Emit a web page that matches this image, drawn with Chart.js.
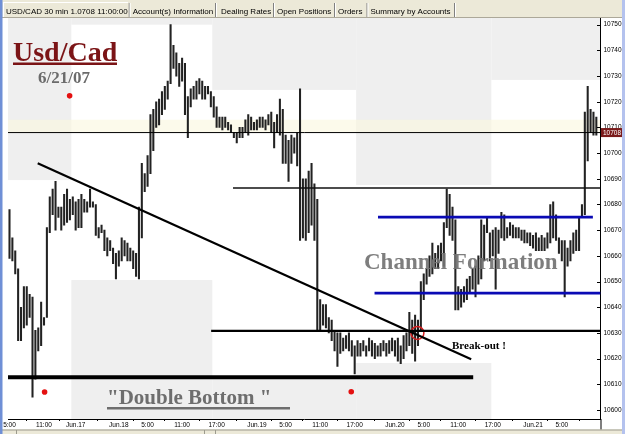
<!DOCTYPE html>
<html><head><meta charset="utf-8">
<script src="https://cdn.jsdelivr.net/npm/chart.js@4/dist/chart.umd.min.js"></script>
<style>html,body{margin:0;padding:0;background:#fff;overflow:hidden}canvas{display:block}</style>
</head><body>
<canvas id="c" width="625" height="434"></canvas>
<script>
// 30-minute bars, USD/CAD (pips, e.g. 10708 = 1.0708)
const highs = [10678,10667,10662,10655,10640,10648,10648,10645,10644,10631,
10632,10642,10636,10671,10683,10686,10689,10679,10679,10684,
10686,10682,10683,10681,10682,10684,10682,10681,10686,10681,
10680,10671,10672,10670,10667,10666,10663,10661,10662,10667,
10666,10665,10663,10662,10661,10679,10696,10692,10699,10715,
10717,10720,10721,10724,10726,10728,10750,10742,10739,10735,
10737,10735,10722,10725,10726,10728,10729,10728,10726,10726,
10724,10722,10718,10714,10714,10714,10712,10711,10708,10708,
10710,10710,10713,10715,10714,10712,10713,10714,10714,10713,
10715,10716,10712,10715,10721,10717,10707,10705,10707,10706,
10708,10725,10690,10690,10693,10696,10688,10682,10643,10641,
10641,10636,10635,10631,10630,10630,10628,10629,10630,10627,
10625,10627,10626,10627,10625,10628,10627,10626,10625,10626,
10627,10626,10627,10628,10627,10628,10625,10629,10630,10638,
10635,10637,10635,10650,10653,10655,10660,10665,10661,10664,
10665,10673,10686,10684,10679,10674,10648,10647,10648,10651,
10652,10655,10656,10660,10674,10672,10675,10669,10670,10671,
10670,10677,10676,10671,10673,10672,10671,10671,10670,10670,
10669,10669,10668,10669,10667,10668,10667,10669,10680,10681,
10676,10667,10666,10666,10663,10666,10669,10670,10675,10680,
10716,10726,10717,10716,10714];
const lows = [10659,10658,10653,10627,10627,10632,10633,10636,10605,10612,
10623,10625,10633,10636,10669,10676,10670,10675,10670,10672,
10673,10674,10676,10670,10671,10671,10677,10677,10679,10679,
10668,10667,10669,10662,10660,10662,10657,10651,10656,10658,
10660,10658,10658,10655,10652,10651,10667,10685,10687,10692,
10701,10710,10711,10715,10717,10721,10727,10733,10730,10726,
10728,10715,10706,10718,10721,10721,10723,10721,10721,10723,
10718,10714,10710,10710,10709,10710,10709,10708,10706,10704,
10706,10706,10708,10707,10709,10709,10709,10710,10710,10709,
10711,10708,10702,10708,10707,10696,10696,10689,10696,10700,
10695,10666,10667,10666,10669,10672,10666,10631,10631,10633,
10632,10630,10627,10623,10617,10622,10623,10624,10623,10621,
10614,10621,10621,10623,10621,10623,10621,10620,10621,10621,
10623,10621,10622,10623,10621,10619,10618,10620,10623,10625,
10622,10619,10625,10631,10643,10649,10652,10653,10655,10655,
10658,10656,10671,10668,10666,10639,10639,10640,10642,10643,
10646,10647,10644,10649,10651,10658,10669,10658,10660,10647,
10661,10667,10666,10667,10668,10667,10667,10667,10666,10665,
10665,10664,10663,10662,10662,10662,10662,10663,10665,10667,
10666,10661,10658,10644,10656,10658,10661,10662,10662,10675,
10676,10697,10708,10707,10707];

// time axis (bar index) and labels
const tickIdx = [0,12,23,38,48,60,72,86,96,108,120,134,144,156,168,182,192,204];
const tickLabels = ["5:00","11:00","Jun.17","Jun.18","5:00","11:00","17:00","Jun.19","5:00","11:00","17:00","Jun.20","5:00","11:00","17:00","Jun.21","5:00",""];
const xMin = -0.52, xMax = 205.45;
const yTicks = [10600,10610,10620,10630,10640,10650,10660,10670,10680,10690,10700,10710,10720,10730,10740,10750];
const yMin = 10596.5, yMax = 10752.6;

// trading-day columns and their shaded ranges
const dayStart = [-0.52, 21.5, 70.5, 120.5, 167.5];
const dayEnd   = [21.5, 70.5, 120.5, 167.5, 205.45];
const dayHigh  = [10689.5, 10750, 10724.6, 10687.6, 10728.5];
const dayLow   = [10596.5, 10650.6, 10613, 10618.3, 10596.5];

// drawn levels
const lastPrice = 10708;
const resistance = [[77.7, 10686.4],[205.45, 10686.4]];
const channelTop = [[128.1, 10675.1],[202.8, 10675.1]];
const channelBottom = [[126.9, 10645.5],[205.45, 10645.5]];
const breakLevel = [[70.1, 10630.8],[205.45, 10630.8]];
const doubleBottom = [[-0.52, 10612.8],[161.2, 10612.8]];
const trendLine = [[9.8, 10696.1],[160.5, 10619.8]];
const redDots = [[20.9, 10722.3],[12.2, 10607],[118.8, 10607.1]];
const breakCircle = [[141.8, 10630]];

const pts = a => a.map(p => ({x:p[0], y:p[1]}));
const lineDs = (a, color, w) => ({type:'line', data:pts(a), borderColor:color, borderWidth:w, pointRadius:0, order:0, tension:0});

const tabs = [["USD/CAD 30 min 1.0708 11:00:00",6],["Account(s) Information",132.7],["Dealing Rates",221],["Open Positions",277],["Orders",338],["Summary by Accounts",370.5]];
const tabSeps = [128.7, 215, 273, 334, 366.5, 454];

const deco = {
  id:'deco',
  beforeDraw(chart){
    const {ctx, chartArea:a, scales:{x,y}} = chart;
    ctx.save();
    ctx.fillStyle='#fff'; ctx.fillRect(0,0,chart.width,chart.height);
    ctx.fillStyle='#efefef';
    for(let d=0; d<dayStart.length; d++){
      const x0=x.getPixelForValue(dayStart[d]), x1=x.getPixelForValue(dayEnd[d]);
      const yh=y.getPixelForValue(dayHigh[d]), yl=y.getPixelForValue(dayLow[d]);
      if(yh>a.top) ctx.fillRect(x0,a.top,x1-x0,yh-a.top);
      if(yl<a.bottom) ctx.fillRect(x0,yl,x1-x0,a.bottom-yl);
    }
    // cream band above last price
    const yp=y.getPixelForValue(lastPrice), yb=y.getPixelForValue(lastPrice+5);
    ctx.fillStyle='rgba(250,246,222,0.6)';
    ctx.fillRect(a.left,yb,a.right-a.left,yp-yb);
    ctx.restore();
  },
  afterDatasetsDraw(chart){
    const {ctx} = chart;
    ctx.save();
    ctx.textBaseline='alphabetic'; ctx.textAlign='left';
    ctx.font='bold 28px "Liberation Serif"'; ctx.fillStyle='#7b1416';
    ctx.fillText('Usd/Cad',13,60.5);
    ctx.fillRect(13,62.5,104,2.5);
    ctx.font='bold 17px "Liberation Serif"'; ctx.fillStyle='#6b6b6b';
    ctx.fillText('6/21/07',38,83);
    ctx.font='bold 23px "Liberation Serif"'; ctx.fillStyle='rgba(115,115,115,0.92)';
    ctx.fillText('Channel Formation',364,268.5);
    ctx.font='bold 11px "Liberation Serif"'; ctx.fillStyle='#000';
    ctx.fillText('Break-out !',452,349);
    ctx.font='bold 21px "Liberation Serif"'; ctx.fillStyle='#6e6e6e';
    ctx.fillText('"Double Bottom "',107,404);
    ctx.fillRect(107,407,183,2.5);
    ctx.restore();
  },
  afterDraw(chart){
    const {ctx, chartArea:a, scales:{y}} = chart;
    ctx.save();
    ctx.fillStyle='#000';
    yTicks.forEach(v=>{const py=Math.round(y.getPixelForValue(v)); ctx.fillRect(a.right-3.5,py,3.5,1);});
    ctx.fillRect(Math.round(a.right)-0.5,a.bottom,1,11);
    const yp=y.getPixelForValue(lastPrice);
    ctx.fillStyle='#7a1a1a'; ctx.fillRect(a.right+0.5,yp-4.5,21,9);
    ctx.fillStyle='#fff'; ctx.font='6.5px "Liberation Sans"'; ctx.textBaseline='middle';
    ctx.fillText(String(lastPrice),a.right+2.5,yp+0.5);
    ctx.fillStyle='#ece9d8'; ctx.fillRect(0,0,chart.width,17.5);
    ctx.fillStyle='#aca899'; ctx.fillRect(0,17,chart.width,1);
    ctx.fillStyle='#fff'; ctx.fillRect(3,2,1,15); ctx.fillRect(3,2,125,1);
    tabSeps.forEach(sx=>{ctx.fillStyle='#808080';ctx.fillRect(sx,3,1,14);ctx.fillStyle='#fff';ctx.fillRect(sx+1,3,1,14);});
    ctx.fillStyle='#000'; ctx.font='8px "Liberation Sans"'; ctx.textBaseline='alphabetic';
    tabs.forEach(t=>ctx.fillText(t[0],t[1],14));
    ctx.fillStyle='#ece9d8'; ctx.fillRect(0,429.5,chart.width,5);
    ctx.fillStyle='#9c9a8c'; ctx.fillRect(0,429.5,chart.width,1);
    [16,204,215].forEach(sx=>ctx.fillRect(sx,430,1,4));
    ctx.fillStyle='#6f8fd6'; ctx.fillRect(0,0,2.5,chart.height);
    ctx.fillStyle='#b4c2ee'; ctx.fillRect(622,0,3,chart.height);
    ctx.restore();
  }
};

new Chart(document.getElementById('c'), {
  type:'bar',
  data:{datasets:[
    {type:'bar', data: highs.map((h,i)=>({x:i, y:[lows[i],h]})), backgroundColor:'#222', barThickness:1.4, grouped:false, order:2},
    lineDs([[xMin,lastPrice],[xMax,lastPrice]],'#000',1),
    lineDs(resistance,'#111',1.6),
    lineDs(channelTop,'#0a0ab4',2.6),
    lineDs(channelBottom,'#0a0ab4',2.6),
    lineDs(breakLevel,'#000',2.2),
    lineDs(doubleBottom,'#000',4),
    lineDs(trendLine,'#000',2.2),
    {type:'scatter', data:pts(redDots), pointRadius:2.8, backgroundColor:'#e41010', borderWidth:0, order:0},
    {type:'scatter', data:pts(breakCircle), pointRadius:6.5, backgroundColor:'rgba(0,0,0,0)', borderColor:'#d42020', borderWidth:1.5, order:0}
  ]},
  options:{
    responsive:false, animation:false, devicePixelRatio:1,
    layout:{padding:{left:3,top:18,right:0,bottom:0}},
    plugins:{legend:{display:false}, tooltip:{enabled:false}},
    scales:{
      x:{type:'linear', min:xMin, max:xMax, offset:false,
        grid:{display:true, drawOnChartArea:false, drawTicks:true, tickLength:2, color:'#000'},
        border:{display:true, color:'#000', width:1},
        ticks:{autoSkip:false, maxRotation:0, padding:0, color:'#000', font:{family:'Liberation Sans', size:6.5},
          callback:(v)=>{const k=tickIdx.indexOf(v); return k<0?'':tickLabels[k];}},
        afterBuildTicks:s=>{s.ticks=tickIdx.map(v=>({value:v}));},
        afterFit:s=>{s.height=15;}
      },
      y:{type:'linear', position:'right', min:yMin, max:yMax,
        grid:{display:true, drawOnChartArea:false, drawTicks:false},
        border:{display:true, color:'#000', width:1},
        ticks:{padding:3, color:'#000', font:{family:'Liberation Sans', size:6.5}, callback:v=>String(v)},
        afterBuildTicks:s=>{s.ticks=yTicks.map(v=>({value:v}));},
        afterFit:s=>{s.width=24.5;}
      }
    }
  },
  plugins:[deco]
});
</script>
</body></html>
